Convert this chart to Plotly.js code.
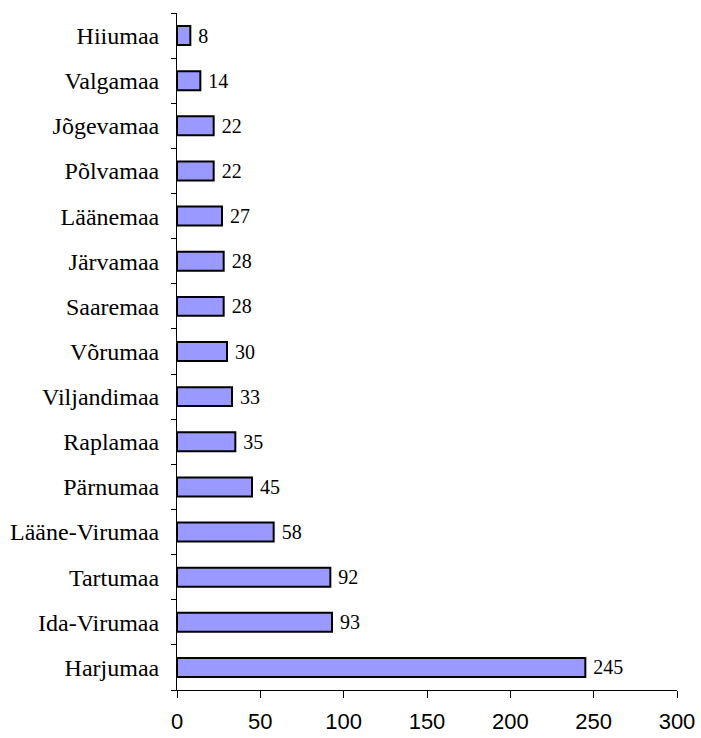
<!DOCTYPE html>
<html>
<head>
<meta charset="utf-8">
<script src="https://cdn.plot.ly/plotly-3.0.1.min.js"></script>
<style>html,body{margin:0;padding:0;background:#fff;}#chart{width:701px;height:738px;}</style>
</head>
<body>
<div id="chart"></div>
<script>
const counties = ["Harjumaa","Ida-Virumaa","Tartumaa","Lääne-Virumaa","Pärnumaa","Raplamaa","Viljandimaa","Võrumaa","Saaremaa","Järvamaa","Läänemaa","Põlvamaa","Jõgevamaa","Valgamaa","Hiiumaa"];
const values = [245,93,92,58,45,35,33,30,28,28,27,22,22,14,8];
const xTicks = [0,50,100,150,200,250,300];

const trace = {
  type: 'bar',
  orientation: 'h',
  x: values,
  y: counties,
  width: 0.42,
  marker: {color: '#9999FF', line: {color: '#000000', width: 2}},
  text: values.map(v => '\u00a0' + v),
  textposition: 'outside',
  constraintext: 'none',
  cliponaxis: false,
  textfont: {family: '"Liberation Serif", "Times New Roman", serif', size: 20, color: '#000'},
  hoverinfo: 'none'
};

const layout = {
  width: 701, height: 738,
  margin: {l: 177, r: 24, t: 13, b: 48, pad: 0},
  paper_bgcolor: '#fff', plot_bgcolor: '#fff',
  showlegend: false,
  xaxis: {
    range: [0, 300],
    tickvals: xTicks,
    ticktext: xTicks.map(String),
    ticks: 'outside', ticklen: 7, tickcolor: '#000', tickwidth: 1,
    showline: true, linecolor: '#000', linewidth: 1,
    showgrid: false, zeroline: false,
    tickfont: {family: '"Liberation Sans", Arial, sans-serif', size: 22, color: '#000'},
    ticklabelstandoff: 5,
    fixedrange: true
  },
  yaxis: {
    type: 'category',
    categoryorder: 'array',
    categoryarray: counties,
    ticks: 'outside', ticklen: 5, tickcolor: '#000', tickwidth: 1,
    tickson: 'boundaries',
    showline: true, linecolor: '#000', linewidth: 1,
    showgrid: false, zeroline: false,
    tickfont: {family: '"Liberation Serif", "Times New Roman", serif', size: 24, color: '#000'},
    ticklabelstandoff: 12,
    fixedrange: true
  }
};

Plotly.newPlot('chart', [trace], layout, {displayModeBar: false, staticPlot: true});
</script>
</body>
</html>
